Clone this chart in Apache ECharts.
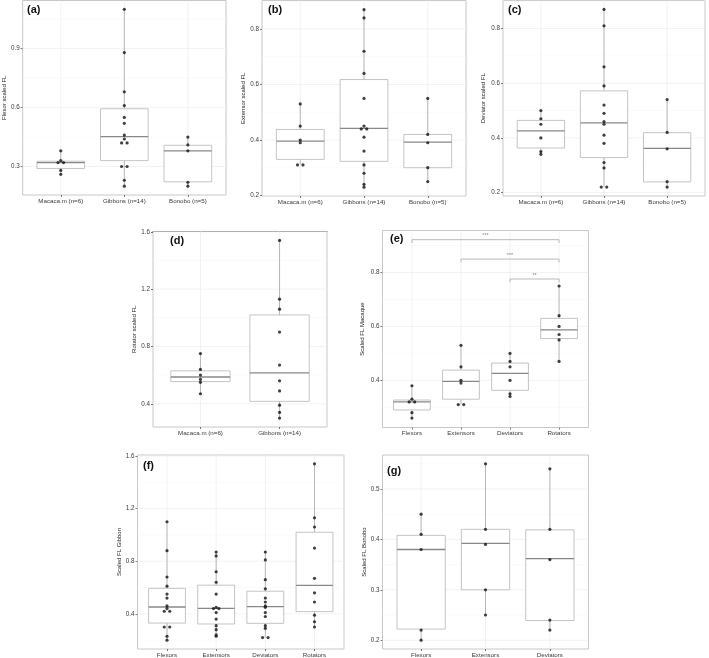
<!DOCTYPE html>
<html><head><meta charset="utf-8">
<script src="https://cdn.jsdelivr.net/npm/echarts@6/dist/echarts.min.js"></script>
<style>html,body{margin:0;padding:0;background:#fff}#c{width:709px;height:658px}</style>
</head><body><div id="c"></div>
<script>
// ---------- categories ----------
const speciesCats3 = ['Macaca.m (n=6)', 'Gibbons (n=14)', 'Bonobo (n=5)'];
const speciesCats2 = ['Macaca.m (n=6)', 'Gibbons (n=14)'];
const muscleCats4 = ['Flexors', 'Extensors', 'Deviators', 'Rotators'];
const muscleCats3 = ['Flexors', 'Extensors', 'Deviators'];

// ---------- individual values (scaled FL) ----------
const flexorMacaca   = [0.38, 0.33, 0.32, 0.32, 0.28, 0.26];
const flexorGibbons  = [1.10, 0.88, 0.68, 0.61, 0.55, 0.52, 0.46, 0.44, 0.42, 0.42, 0.30, 0.30, 0.23, 0.20];
const flexorBonobo   = [0.45, 0.41, 0.38, 0.22, 0.20];
const extensorMacaca  = [0.53, 0.45, 0.40, 0.39, 0.31, 0.31];
const extensorGibbons = [0.87, 0.84, 0.72, 0.64, 0.55, 0.45, 0.44, 0.44, 0.41, 0.36, 0.31, 0.28, 0.24, 0.23];
const extensorBonobo  = [0.55, 0.42, 0.39, 0.30, 0.25];
const deviatorMacaca  = [0.50, 0.47, 0.45, 0.40, 0.35, 0.34];
const deviatorGibbons = [0.87, 0.81, 0.66, 0.59, 0.52, 0.49, 0.46, 0.45, 0.41, 0.38, 0.31, 0.29, 0.22, 0.22];
const deviatorBonobo  = [0.54, 0.42, 0.36, 0.24, 0.22];
const rotatorMacaca   = [0.75, 0.64, 0.60, 0.57, 0.55, 0.47];
const rotatorGibbons  = [1.54, 1.13, 1.06, 0.90, 0.67, 0.56, 0.49, 0.39, 0.34, 0.30];

// ---------- box statistics [min, q1, median, q3, max] ----------
const flexorMacacaBox   = [0.26, 0.29, 0.32, 0.327, 0.38];
const flexorGibbonsBox  = [0.20, 0.33, 0.452, 0.594, 1.10];
const flexorBonoboBox   = [0.20, 0.222, 0.38, 0.408, 0.45];
const extensorMacacaBox  = [0.31, 0.33, 0.396, 0.438, 0.53];
const extensorGibbonsBox = [0.23, 0.323, 0.442, 0.618, 0.87];
const extensorBonoboBox  = [0.25, 0.30, 0.392, 0.42, 0.55];
const deviatorMacacaBox  = [0.34, 0.363, 0.426, 0.464, 0.50];
const deviatorGibbonsBox = [0.22, 0.328, 0.455, 0.572, 0.87];
const deviatorBonoboBox  = [0.22, 0.239, 0.362, 0.419, 0.54];
const rotatorMacacaBox   = [0.47, 0.555, 0.587, 0.630, 0.75];
const rotatorGibbonsBox  = [0.30, 0.417, 0.616, 1.02, 1.54];

// ---------- significance brackets in (e): [from, to, y] and labels ----------
const macaqueBrackets = [[1, 4, 0.922], [2, 4, 0.850], [3, 4, 0.776]];
const macaqueBracketLabels = ['***', '***', '**'];

// ---------- axis ticks ----------
const ticksA = [0.3, 0.6, 0.9],          minorA = [0.45, 0.75, 1.05];
const ticksBC = [0.2, 0.4, 0.6, 0.8],    minorBC = [0.3, 0.5, 0.7, 0.9];
const ticksD = [0.4, 0.8, 1.2, 1.6],     minorD = [0.6, 1.0, 1.4];
const ticksE = [0.4, 0.6, 0.8],          minorE = [0.3, 0.5, 0.7, 0.9];
const ticksF = [0.4, 0.8, 1.2, 1.6],     minorF = [0.2, 0.6, 1.0, 1.4];
const ticksG = [0.2, 0.3, 0.4, 0.5],     minorG = [0.25, 0.35, 0.45, 0.55];

const FONT = '"Liberation Sans", Arial, Helvetica, sans-serif';
const BOX_W = 0.75;

const panels = [
  {grid:{left:18, top:0.5, width:208, height:194.5}, cats:speciesCats3,
   groups:[flexorMacaca, flexorGibbons, flexorBonobo], boxes:[flexorMacacaBox, flexorGibbonsBox, flexorBonoboBox],
   yr:[0.155, 1.145], major:ticksA, minor:minorA, yName:'Flexor scaled FL', gap:11, letter:'(a)', at:[27, 4]},
  {grid:{left:262, top:0.5, width:204, height:195.5}, cats:speciesCats3,
   groups:[extensorMacaca, extensorGibbons, extensorBonobo], boxes:[extensorMacacaBox, extensorGibbonsBox, extensorBonoboBox],
   yr:[0.198, 0.903], major:ticksBC, minor:minorBC, yName:'Extensor scaled FL', gap:15, letter:'(b)', at:[268, 4]},
  {grid:{left:503, top:0.5, width:202, height:195.5}, cats:speciesCats3,
   groups:[deviatorMacaca, deviatorGibbons, deviatorBonobo], boxes:[deviatorMacacaBox, deviatorGibbonsBox, deviatorBonoboBox],
   yr:[0.1875, 0.9025], major:ticksBC, minor:minorBC, yName:'Deviator scaled FL', gap:17, letter:'(c)', at:[508, 4]},
  {grid:{left:153, top:231.5, width:174, height:195.5}, cats:speciesCats2,
   groups:[rotatorMacaca, rotatorGibbons], boxes:[rotatorMacacaBox, rotatorGibbonsBox],
   yr:[0.238, 1.602], major:ticksD, minor:minorD, yName:'Rotator scaled FL', gap:13, letter:'(d)', at:[170, 235], darkTop:true},
  {grid:{left:382.5, top:230.5, width:206, height:197}, cats:muscleCats4,
   groups:[flexorMacaca, extensorMacaca, deviatorMacaca, rotatorMacaca], boxes:[flexorMacacaBox, extensorMacacaBox, deviatorMacacaBox, rotatorMacacaBox],
   yr:[0.225, 0.956], major:ticksE, minor:minorE, yName:'Scaled FL Macaque', gap:17, letter:'(e)', at:[390, 233], brackets:true},
  {grid:{left:137.5, top:455, width:206.5, height:196}, cats:muscleCats4,
   groups:[flexorGibbons, extensorGibbons, deviatorGibbons, rotatorGibbons], boxes:[flexorGibbonsBox, extensorGibbonsBox, deviatorGibbonsBox, rotatorGibbonsBox],
   yr:[0.133, 1.607], major:ticksF, minor:minorF, yName:'Scaled FL Gibbon', gap:15, letter:'(f)', at:[143, 460]},
  {grid:{left:382.5, top:455, width:206, height:196}, cats:muscleCats3,
   groups:[flexorBonobo, extensorBonobo, deviatorBonobo], boxes:[flexorBonoboBox, extensorBonoboBox, deviatorBonoboBox],
   yr:[0.1825, 0.5675], major:ticksG, minor:minorG, yName:'Scaled FL Bonobo', gap:14, letter:'(g)', at:[387, 465]}
];

const option = {animation:false, grid:[], xAxis:[], yAxis:[], series:[], title:[]};

panels.forEach((p, i) => {
  const n = p.cats.length;
  const xs = p.cats.map((_, k) => k + 1);
  option.grid.push(Object.assign({show:true, borderColor:'#c8c8c8', borderWidth:1, backgroundColor:'transparent'}, p.grid));
  option.xAxis.push({
    type:'value', gridIndex:i, min:0.4, max:n + 0.6,
    axisLine:{show:false}, splitLine:{show:false},
    axisTick:{show:true, customValues:xs, length:2, lineStyle:{color:'#555', width:0.8}},
    axisLabel:{customValues:xs, formatter:v => p.cats[Math.round(v) - 1] || '', fontSize:6.2, color:'#3a3a3a', margin:3, fontFamily:FONT}
  });
  option.yAxis.push({
    type:'value', gridIndex:i, min:p.yr[0], max:p.yr[1],
    name:p.yName, nameLocation:'middle', nameGap:p.gap,
    nameTextStyle:{fontSize:6, color:'#222', fontFamily:FONT},
    axisLine:{show:false}, splitLine:{show:false},
    axisTick:{show:true, customValues:p.major, length:2, lineStyle:{color:'#555', width:0.8}},
    axisLabel:{customValues:p.major, formatter:v => v.toFixed(1), fontSize:6.3, color:'#3a3a3a', margin:3, fontFamily:FONT}
  });
  // grid lines (0 = major horizontal, 1 = minor horizontal, 2 = vertical at categories)
  const gl = [];
  p.major.forEach(v => gl.push([v, 0]));
  p.minor.forEach(v => gl.push([v, 1]));
  xs.forEach(v => gl.push([v, 2]));
  option.series.push({
    type:'custom', xAxisIndex:i, yAxisIndex:i, silent:true, z:1, clip:false,
    encode:{x:0, y:0},
    data:gl,
    renderItem:(params, api) => {
      const cs = params.coordSys;
      const kind = api.value(1), v = api.value(0);
      if (kind === 2) {
        const x = api.coord([v, p.yr[0]])[0];
        return {type:'line', shape:{x1:x, y1:cs.y, x2:x, y2:cs.y + cs.height}, style:{stroke:'#ececec', lineWidth:0.7}};
      }
      const y = api.coord([1, v])[1];
      return {type:'line', shape:{x1:cs.x, y1:y, x2:cs.x + cs.width, y2:y},
              style:{stroke: kind === 0 ? '#ececec' : '#f4f4f4', lineWidth: kind === 0 ? 0.7 : 0.5}};
    }
  });
  // boxes
  option.series.push({
    type:'custom', xAxisIndex:i, yAxisIndex:i, silent:true, z:2,
    encode:{x:0, y:[1, 2, 3, 4, 5]},
    data:p.boxes.map((b, k) => [k + 1].concat(b)),
    renderItem:(params, api) => {
      const x = api.value(0);
      const pMin = api.coord([x, api.value(1)]);
      const pQ1 = api.coord([x, api.value(2)]);
      const pMed = api.coord([x, api.value(3)]);
      const pQ3 = api.coord([x, api.value(4)]);
      const pMax = api.coord([x, api.value(5)]);
      const half = api.size([BOX_W, 0])[0] / 2;
      const cx = pMed[0];
      return {type:'group', children:[
        {type:'line', shape:{x1:cx, y1:pMax[1], x2:cx, y2:pQ3[1]}, style:{stroke:'#a8a8a8', lineWidth:0.8}},
        {type:'line', shape:{x1:cx, y1:pQ1[1], x2:cx, y2:pMin[1]}, style:{stroke:'#a8a8a8', lineWidth:0.8}},
        {type:'rect', shape:{x:cx - half, y:pQ3[1], width:2 * half, height:pQ1[1] - pQ3[1]},
         style:{fill:'#fff', stroke:'#bdbdbd', lineWidth:0.9}},
        {type:'line', shape:{x1:cx - half, y1:pMed[1], x2:cx + half, y2:pMed[1]}, style:{stroke:'#888', lineWidth:1.3}}
      ]};
    }
  });
  // points, ties placed side by side
  const pts = [];
  p.groups.forEach((g, k) => {
    g.forEach((v, j) => {
      const same = g.filter(w => Math.abs(w - v) < 0.004).length;
      const rank = g.slice(0, j).filter(w => Math.abs(w - v) < 0.004).length;
      const off = (rank - (same - 1) / 2) * 5.5;
      pts.push({value:[k + 1, v], symbolOffset:[off, 0]});
    });
  });
  option.series.push({
    type:'scatter', xAxisIndex:i, yAxisIndex:i, silent:true, z:4,
    symbol:'circle', symbolSize:3.2, itemStyle:{color:'#111'}, data:pts
  });
  if (p.brackets) {
    option.series.push({
      type:'custom', xAxisIndex:i, yAxisIndex:i, silent:true, z:3, clip:false,
      encode:{x:[0, 1], y:2},
      data:macaqueBrackets,
      renderItem:(params, api) => {
        const a = api.coord([api.value(0), api.value(2)]);
        const b = api.coord([api.value(1), api.value(2)]);
        const drop = 3.3;
        return {type:'group', children:[
          {type:'polyline', shape:{points:[[a[0], a[1] + drop], [a[0], a[1]], [b[0], b[1]], [b[0], b[1] + drop]]},
           style:{stroke:'#a8a8a8', lineWidth:0.8, fill:null}},
          {type:'text', style:{x:(a[0] + b[0]) / 2, y:a[1] - 1, text:macaqueBracketLabels[params.dataIndex],
           align:'center', verticalAlign:'bottom', fontSize:5.5, fill:'#888', fontFamily:FONT}}
        ]};
      }
    });
  }
  option.title.push({text:p.letter, left:p.at[0], top:p.at[1], padding:0,
    textStyle:{fontSize:11, fontWeight:'bold', color:'#111', fontFamily:FONT}});
});

// darker top edge of panel (d)
option.xAxis.push({type:'value', gridIndex:3, position:'top', min:0.4, max:2.6,
  axisLine:{show:true, lineStyle:{color:'#777', width:1}}, axisTick:{show:false}, axisLabel:{show:false}, splitLine:{show:false}});

const chart = echarts.init(document.getElementById('c'), null, {renderer:'canvas'});
chart.setOption(option);
</script></body></html>
